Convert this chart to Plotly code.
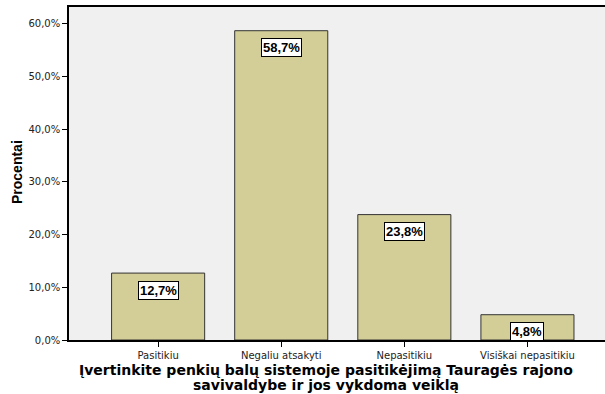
import plotly.graph_objects as go

categories = ["Pasitikiu", "Negaliu atsakyti", "Nepasitikiu", "Visiškai nepasitikiu"]
values = [12.7, 58.7, 23.8, 4.8]
value_labels = ["12,7%", "58,7%", "23,8%", "4,8%"]
y_tickvals = [0, 10, 20, 30, 40, 50, 60]
y_ticktext = ["0,0%", "10,0%", "20,0%", "30,0%", "40,0%", "50,0%", "60,0%"]
x_title_lines = ["Įvertinkite penkių balų sistemoje pasitikėjimą Tauragės rajono",
                 "savivaldybe ir jos vykdoma veiklą"]
y_title = "Procentai"

W, H = 605, 394
L, R, T, B = 69, 0, 7, 54
pw, ph = W - L - R, H - T - B

fig = go.Figure()
fig.add_trace(go.Bar(
    x=list(range(len(categories))), y=values,
    marker=dict(color="#D3CE98", line=dict(color="#333333", width=1)),
    width=0.756, hoverinfo="skip",
))

for i, (v, lab) in enumerate(zip(values, value_labels)):
    fig.add_annotation(
        x=i, y=v, xref="x", yref="y", text="<b>" + lab + "</b>",
        showarrow=False, yanchor="middle", yshift=-17,
        bgcolor="white", bordercolor="#000000", borderwidth=1, borderpad=1,
        font=dict(family="Liberation Sans, Arial", size=13, color="#000000"),
    )

for k, (line, ypx) in enumerate(zip(x_title_lines, [370, 385])):
    fig.add_annotation(
        x=(326 - L) / pw, y=(H - B - ypx) / ph, xref="paper", yref="paper",
        yanchor="middle", xanchor="center",
        text="<b>" + line + "</b>", showarrow=False,
        font=dict(family="DejaVu Sans", size=14, color="#000000"),
    )

fig.add_annotation(
    x=(17 - L) / pw, y=(H - B - 172) / ph, xref="paper", yref="paper",
    text="<b>" + y_title + "</b>", textangle=-90, showarrow=False,
    xanchor="center", yanchor="middle",
    font=dict(family="Liberation Sans, Arial", size=14, color="#000000"),
)

fig.update_layout(
    width=W, height=H,
    margin=dict(l=L, r=R, t=T, b=B, autoexpand=False),
    paper_bgcolor="white", plot_bgcolor="#F0F0F0",
    showlegend=False, bargap=0.24,
    xaxis=dict(
        range=[-0.724, 3.63], tickvals=list(range(len(categories))), ticktext=categories,
        ticks="outside", ticklen=5, tickcolor="#000000", tickwidth=1,
        showline=True, linecolor="#000000", linewidth=1.5, mirror=True,
        showgrid=False, zeroline=False, automargin=False,
        tickfont=dict(family="DejaVu Sans", size=10, color="#222222"),
    ),
    yaxis=dict(
        range=[0, 63.2], tickvals=y_tickvals, ticktext=y_ticktext,
        ticks="outside", ticklen=5, tickcolor="#000000", tickwidth=1,
        showline=True, linecolor="#000000", linewidth=1.5,
        showgrid=False, zeroline=False, automargin=False,
        tickfont=dict(family="DejaVu Sans", size=10, color="#222222"),
    ),
)

fig.write_html("out.html", config={"displayModeBar": False},
               post_script="document.body.style.margin='0';document.body.style.overflow='hidden';")
